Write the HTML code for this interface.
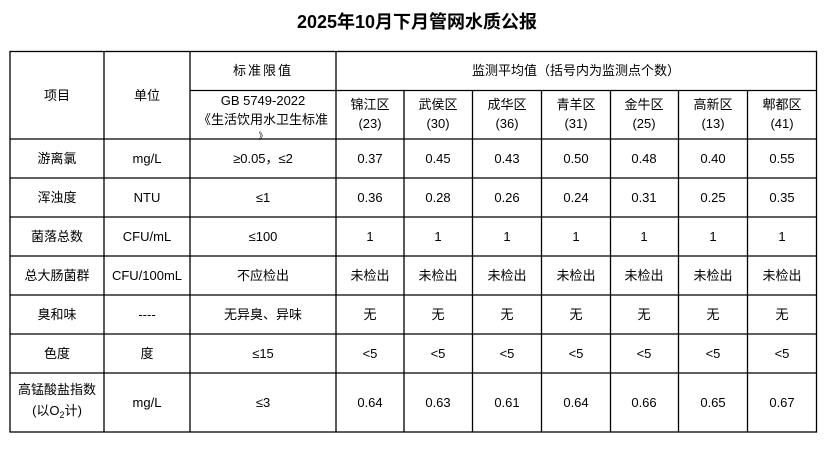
<!DOCTYPE html>
<html><head><meta charset="utf-8"><style>
body{margin:0;background:#fff;width:835px;height:456px;overflow:hidden}
svg text{font-family:"Liberation Sans","Noto Sans CJK SC",sans-serif;font-size:13px;fill:#000;text-anchor:middle}
</style></head><body>
<svg width="835" height="456" xmlns="http://www.w3.org/2000/svg">
<text x="417" y="28" style="font-size:18px;font-weight:bold">2025年10月下月管网水质公报</text>
<g stroke="#000" stroke-width="1.3" fill="none">
<rect x="10" y="51.5" width="806.5" height="380.5"/>
<line x1="336" y1="90.5" x2="816" y2="90.5"/>
<line x1="190" y1="90.5" x2="336" y2="90.5"/>
<line x1="10" y1="139" x2="816" y2="139"/>
<line x1="10" y1="178" x2="816" y2="178"/>
<line x1="10" y1="217" x2="816" y2="217"/>
<line x1="10" y1="256" x2="816" y2="256"/>
<line x1="10" y1="295" x2="816" y2="295"/>
<line x1="10" y1="334" x2="816" y2="334"/>
<line x1="10" y1="373" x2="816" y2="373"/>
<line x1="104" y1="51" x2="104" y2="432"/>
<line x1="190" y1="51" x2="190" y2="432"/>
<line x1="336" y1="51" x2="336" y2="432"/>
<line x1="404" y1="90" x2="404" y2="432"/>
<line x1="472.5" y1="90" x2="472.5" y2="432"/>
<line x1="541.5" y1="90" x2="541.5" y2="432"/>
<line x1="610.5" y1="90" x2="610.5" y2="432"/>
<line x1="678.5" y1="90" x2="678.5" y2="432"/>
<line x1="747.5" y1="90" x2="747.5" y2="432"/>
</g>
<text x="57" y="100">项目</text>
<text x="147" y="100">单位</text>
<text x="263" y="75" style="letter-spacing:2px">标准限值</text>
<text x="263" y="105">GB 5749-2022</text>
<text x="263" y="124">《生活饮用水卫生标准</text>
<text x="263" y="139" style="font-size:9px">》</text>
<text x="576" y="75">监测平均值（括号内为监测点个数）</text>
<g>
<text x="370" y="109">锦江区</text><text x="370" y="128">(23)</text>
<text x="438" y="109">武侯区</text><text x="438" y="128">(30)</text>
<text x="507" y="109">成华区</text><text x="507" y="128">(36)</text>
<text x="576" y="109">青羊区</text><text x="576" y="128">(31)</text>
<text x="644" y="109">金牛区</text><text x="644" y="128">(25)</text>
<text x="713" y="109">高新区</text><text x="713" y="128">(13)</text>
<text x="782" y="109">郫都区</text><text x="782" y="128">(41)</text>
</g>
<g style="font-size:13px">
<text x="57" y="163">游离氯</text><text x="147" y="163">mg/L</text><text x="263" y="163">≥0.05，≤2</text>
<text x="57" y="202">浑浊度</text><text x="147" y="202">NTU</text><text x="263" y="202">≤1</text>
<text x="57" y="241">菌落总数</text><text x="147" y="241">CFU/mL</text><text x="263" y="241">≤100</text>
<text x="57" y="280">总大肠菌群</text><text x="147" y="280">CFU/100mL</text><text x="263" y="280">不应检出</text>
<text x="57" y="319">臭和味</text><text x="147" y="319">----</text><text x="263" y="319">无异臭、异味</text>
<text x="57" y="358">色度</text><text x="147" y="358">度</text><text x="263" y="358">≤15</text>
<text x="57" y="394">高锰酸盐指数</text><text x="57" y="415">(以O<tspan dy="3" style="font-size:9px">2</tspan><tspan dy="-3">计)</tspan></text>
<text x="147" y="407">mg/L</text><text x="263" y="407">≤3</text>
</g>
<g style="font-size:12px">
<text x="370" y="163">0.37</text><text x="438" y="163">0.45</text><text x="507" y="163">0.43</text><text x="576" y="163">0.50</text><text x="644" y="163">0.48</text><text x="713" y="163">0.40</text><text x="782" y="163">0.55</text>
<text x="370" y="202">0.36</text><text x="438" y="202">0.28</text><text x="507" y="202">0.26</text><text x="576" y="202">0.24</text><text x="644" y="202">0.31</text><text x="713" y="202">0.25</text><text x="782" y="202">0.35</text>
<text x="370" y="241">1</text><text x="438" y="241">1</text><text x="507" y="241">1</text><text x="576" y="241">1</text><text x="644" y="241">1</text><text x="713" y="241">1</text><text x="782" y="241">1</text>
<text x="370" y="280">未检出</text><text x="438" y="280">未检出</text><text x="507" y="280">未检出</text><text x="576" y="280">未检出</text><text x="644" y="280">未检出</text><text x="713" y="280">未检出</text><text x="782" y="280">未检出</text>
<text x="370" y="319">无</text><text x="438" y="319">无</text><text x="507" y="319">无</text><text x="576" y="319">无</text><text x="644" y="319">无</text><text x="713" y="319">无</text><text x="782" y="319">无</text>
<text x="370" y="358">&lt;5</text><text x="438" y="358">&lt;5</text><text x="507" y="358">&lt;5</text><text x="576" y="358">&lt;5</text><text x="644" y="358">&lt;5</text><text x="713" y="358">&lt;5</text><text x="782" y="358">&lt;5</text>
<text x="370" y="407">0.64</text><text x="438" y="407">0.63</text><text x="507" y="407">0.61</text><text x="576" y="407">0.64</text><text x="644" y="407">0.66</text><text x="713" y="407">0.65</text><text x="782" y="407">0.67</text>
</g>
</svg>
</body></html>
